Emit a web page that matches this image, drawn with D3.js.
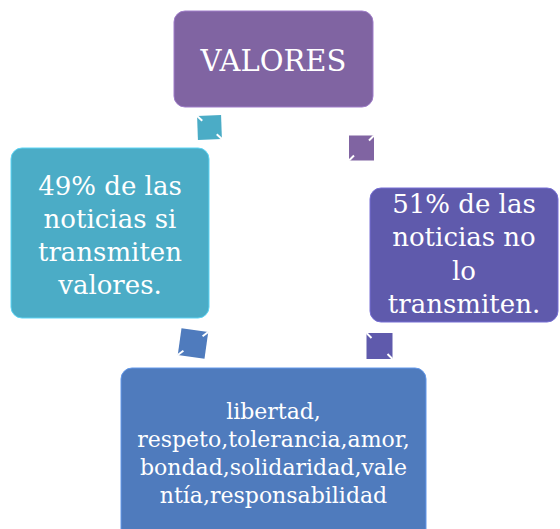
<!DOCTYPE html>
<html>
<head>
<meta charset="utf-8">
<script src="https://cdn.jsdelivr.net/npm/d3@7"></script>
<style>
  html, body { margin: 0; padding: 0; background: #fff; overflow: hidden; }
  svg { display: block; }
</style>
</head>
<body>
<svg id="chart" width="560" height="529"></svg>
<script>
// Nodos del diagrama (texto por línea)
const nodeIds = ["valores", "si", "no", "lista"];
const nodeLines = [
  ["VALORES"],
  ["49% de las", "noticias si", "transmiten", "valores."],
  ["51% de las", "noticias no", "lo", "transmiten."],
  ["libertad,", "respeto,tolerancia,amor,", "bondad,solidaridad,vale", "ntía,responsabilidad"]
];
// Flechas entre nodos (origen -> destino)
const arrowLinks = [
  ["si", "valores"],
  ["valores", "no"],
  ["lista", "si"],
  ["no", "lista"]
];

// Disposición y estilos (cy = línea base media del texto)
const layout = {
  valores: { x: 174, y: 11, w: 199, h: 96, fill: "#8064a2", size: 29, lh: 36, cy: 71 },
  si:      { x: 11, y: 148, w: 198, h: 170, fill: "#4bacc6", size: 26, lh: 33, cy: 244.5 },
  no:      { x: 370, y: 188, w: 188, h: 134, fill: "#5f5aac", size: 26, lh: 33.3, cy: 263 },
  lista:   { x: 121, y: 368, w: 305, h: 175, fill: "#4f7bbd", size: 22, lh: 28, cy: 460.5 }
};
const arrowLayout = {
  "si-valores":  { cx: 209.5, cy: 127.5, s: 24, rot: -2, fill: "#4bacc6" },
  "valores-no":  { cx: 361.5, cy: 148, s: 25, rot: 0, fill: "#8064a2" },
  "lista-si":    { cx: 193, cy: 343.5, s: 27, rot: 8, fill: "#4f7bbd" },
  "no-lista":    { cx: 379.5, cy: 346, s: 26, rot: 0, fill: "#5f5aac" }
};

const svg = d3.select("#chart");
const font = "'DejaVu Serif', serif";

// Cajas
const nodes = nodeIds.map((id, i) => ({ id, lines: nodeLines[i], ...layout[id] }));

const g = svg.selectAll("g.node")
  .data(nodes)
  .enter()
  .append("g")
  .attr("class", "node");

g.append("rect")
  .attr("x", d => d.x)
  .attr("y", d => d.y)
  .attr("width", d => d.w)
  .attr("height", d => d.h)
  .attr("rx", 11)
  .attr("fill", d => d.fill)
  .attr("stroke", d => d3.color(d.fill).brighter(0.6))
  .attr("stroke-width", 1);

g.each(function (d) {
  const cx = d.x + d.w / 2;
  const n = d.lines.length;
  const first = d.cy - (n - 1) * d.lh / 2;
  d3.select(this)
    .selectAll("text")
    .data(d.lines)
    .enter()
    .append("text")
    .attr("x", cx)
    .attr("y", (t, i) => first + i * d.lh)
    .attr("text-anchor", "middle")
    .attr("font-family", font)
    .attr("font-size", d.size)
    .attr("fill", "#fff")
    .text(t => t);
});

// Flechas (cuadros pequeños con muescas blancas)
const arrows = arrowLinks.map(([a, b]) => ({ a, b, ...arrowLayout[a + "-" + b] }));

const ag = svg.selectAll("g.arrow")
  .data(arrows)
  .enter()
  .append("g")
  .attr("class", "arrow")
  .attr("transform", d => `translate(${d.cx},${d.cy}) rotate(${d.rot})`);

ag.append("rect")
  .attr("x", d => -d.s / 2)
  .attr("y", d => -d.s / 2)
  .attr("width", d => d.s)
  .attr("height", d => d.s)
  .attr("fill", d => d.fill);

// muescas en esquinas opuestas
ag.each(function (d) {
  const h = d.s / 2;
  const down = (d.a === "si" || d.a === "no"); // diagonal "\" para estas
  const k = 5;
  const segs = down
    ? [[-h, -h, -h + k, -h + k], [h - k, h - k, h, h]]
    : [[h - k, -h + k, h, -h], [-h, h, -h + k, h - k]];
  d3.select(this).selectAll("line")
    .data(segs)
    .enter()
    .append("line")
    .attr("x1", s => s[0]).attr("y1", s => s[1])
    .attr("x2", s => s[2]).attr("y2", s => s[3])
    .attr("stroke", "#fff")
    .attr("stroke-width", 2);
});
</script>
</body>
</html>
